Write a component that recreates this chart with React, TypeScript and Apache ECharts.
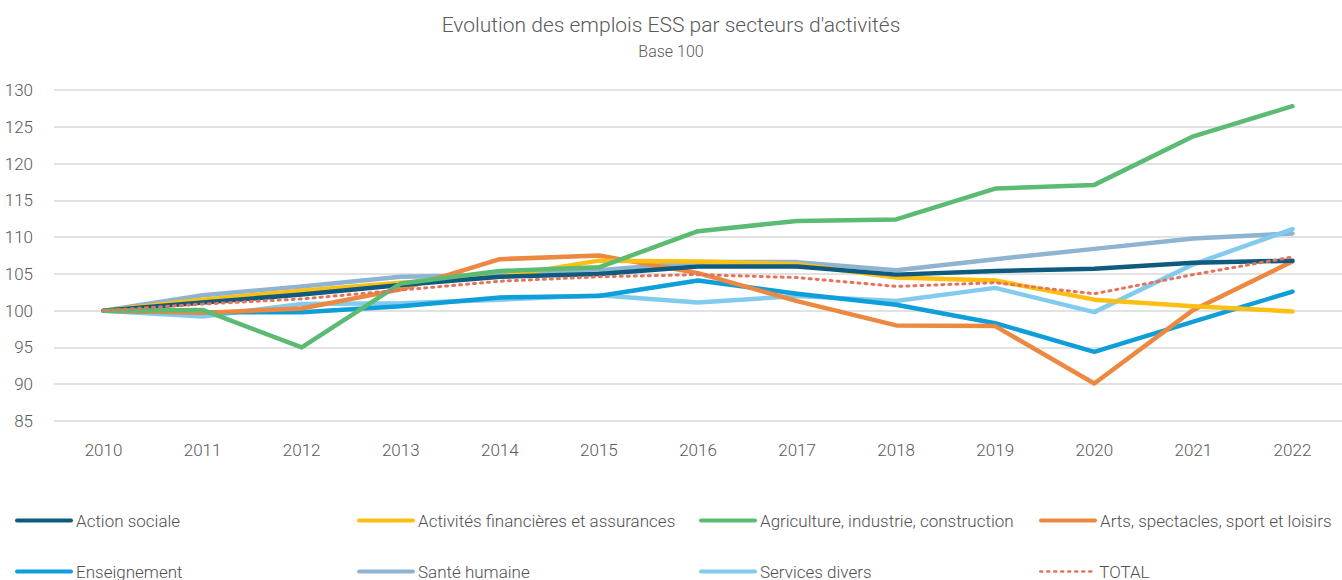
import React, { useEffect, useRef } from "react";
import * as echarts from "echarts";

const years = ["2010","2011","2012","2013","2014","2015","2016","2017","2018","2019","2020","2021","2022"];

const actionSociale = [100, 101.1, 102.2, 103.5, 104.6, 105.0, 106.0, 106.0, 104.9, 105.4, 105.7, 106.5, 106.8];
const activitesFinancieres = [100, 101.5, 102.7, 103.8, 104.6, 106.8, 106.7, 106.3, 104.5, 104.1, 101.5, 100.6, 99.9];
const agriculture = [100, 100.1, 95.0, 103.7, 105.4, 105.9, 110.8, 112.2, 112.4, 116.6, 117.1, 123.7, 127.8];
const arts = [100, 99.7, 100.3, 102.9, 107.0, 107.5, 105.1, 101.3, 98.0, 97.9, 90.1, 100.1, 106.7];
const enseignement = [100, 99.8, 99.8, 100.6, 101.8, 102.0, 104.1, 102.3, 100.8, 98.3, 94.4, 98.5, 102.6];
const santeHumaine = [100, 102.1, 103.3, 104.6, 104.8, 105.5, 106.6, 106.6, 105.5, 107.0, 108.4, 109.8, 110.5];
const servicesDivers = [100, 99.2, 100.9, 101.0, 101.5, 102.1, 101.1, 102.0, 101.3, 103.1, 99.8, 106.3, 111.1];
const total = [100, 100.9, 101.6, 102.8, 104.0, 104.6, 104.9, 104.5, 103.3, 103.8, 102.3, 104.9, 107.3];

const seriesNames = [
  "Action sociale",
  "Activités financières et assurances",
  "Agriculture, industrie, construction",
  "Arts, spectacles, sport et loisirs",
  "Enseignement",
  "Santé humaine",
  "Services divers",
  "TOTAL",
];
const seriesData = [actionSociale, activitesFinancieres, agriculture, arts, enseignement, santeHumaine, servicesDivers, total];
const colors = ["#0f5b80", "#fdbf12", "#5cbb72", "#ec8840", "#0e9fda", "#8fb4d1", "#82cbee", "#e5735b"];

const FONT = "Roboto";

export default function App() {
  const ref = useRef<HTMLDivElement>(null);
  useEffect(() => {
    document.body.style.margin = "0";
    if (!ref.current) return;
    const chart = echarts.init(ref.current, null, { renderer: "svg" });
    const legendPos = [
      [15, 512], [357, 512], [699, 512], [1039, 512],
      [15, 563], [357, 563], [699, 563], [1039, 563],
    ];
    const order = [5, 6, 4, 3, 1, 0, 2, 7];
    chart.setOption({
      animation: false,
      textStyle: { fontFamily: FONT },
      title: {
        text: "Evolution des emplois ESS par secteurs d'activités",
        subtext: "Base 100",
        left: "center",
        top: 9,
        itemGap: 8,
        textStyle: { fontFamily: FONT, fontSize: 21, fontWeight: 300, color: "#595959" },
        subtextStyle: { fontFamily: FONT, fontSize: 16, fontWeight: 300, color: "#595959" },
      },
      legend: seriesNames.map((n, i) => ({
        data: [n],
        left: legendPos[i][0],
        top: legendPos[i][1],
        padding: 0,
        itemWidth: 54,
        itemHeight: 16,
        selectedMode: false,
        itemStyle: { opacity: 0 },
        lineStyle: i === 7 ? { width: 2.5, cap: "round" } : { width: 4, cap: "round" },
        textStyle: { fontFamily: FONT, fontSize: 17, fontWeight: 300, color: "#505050" },
      })),
      grid: { left: 54, right: -12, top: 90, bottom: 159, containLabel: false },
      xAxis: {
        type: "category",
        data: years,
        boundaryGap: true,
        axisLine: { show: false },
        axisTick: { show: false },
        axisLabel: { fontFamily: FONT, fontSize: 17, fontWeight: 300, color: "#595959", margin: 20 },
      },
      yAxis: {
        type: "value",
        min: 85,
        max: 130,
        interval: 5,
        axisLine: { show: false },
        axisTick: { show: false },
        axisLabel: { fontFamily: FONT, fontSize: 17, fontWeight: 300, color: "#595959", margin: 21 },
        splitLine: { lineStyle: { color: "#d9d9d9", width: 1.5 } },
      },
      series: order.map((i) => ({
        name: seriesNames[i],
        type: "line",
        data: seriesData[i],
        symbol: "none",
        color: colors[i],
        z: i === 7 ? 10 : 2,
        lineStyle:
          i === 7
            ? { color: colors[i], width: 3, type: [2, 5], cap: "round" }
            : { color: colors[i], width: 4.5, cap: "round", join: "round" },
      })),
    });
    return () => chart.dispose();
  }, []);
  return <div ref={ref} style={{ width: 1342, height: 580 }} />;
}
